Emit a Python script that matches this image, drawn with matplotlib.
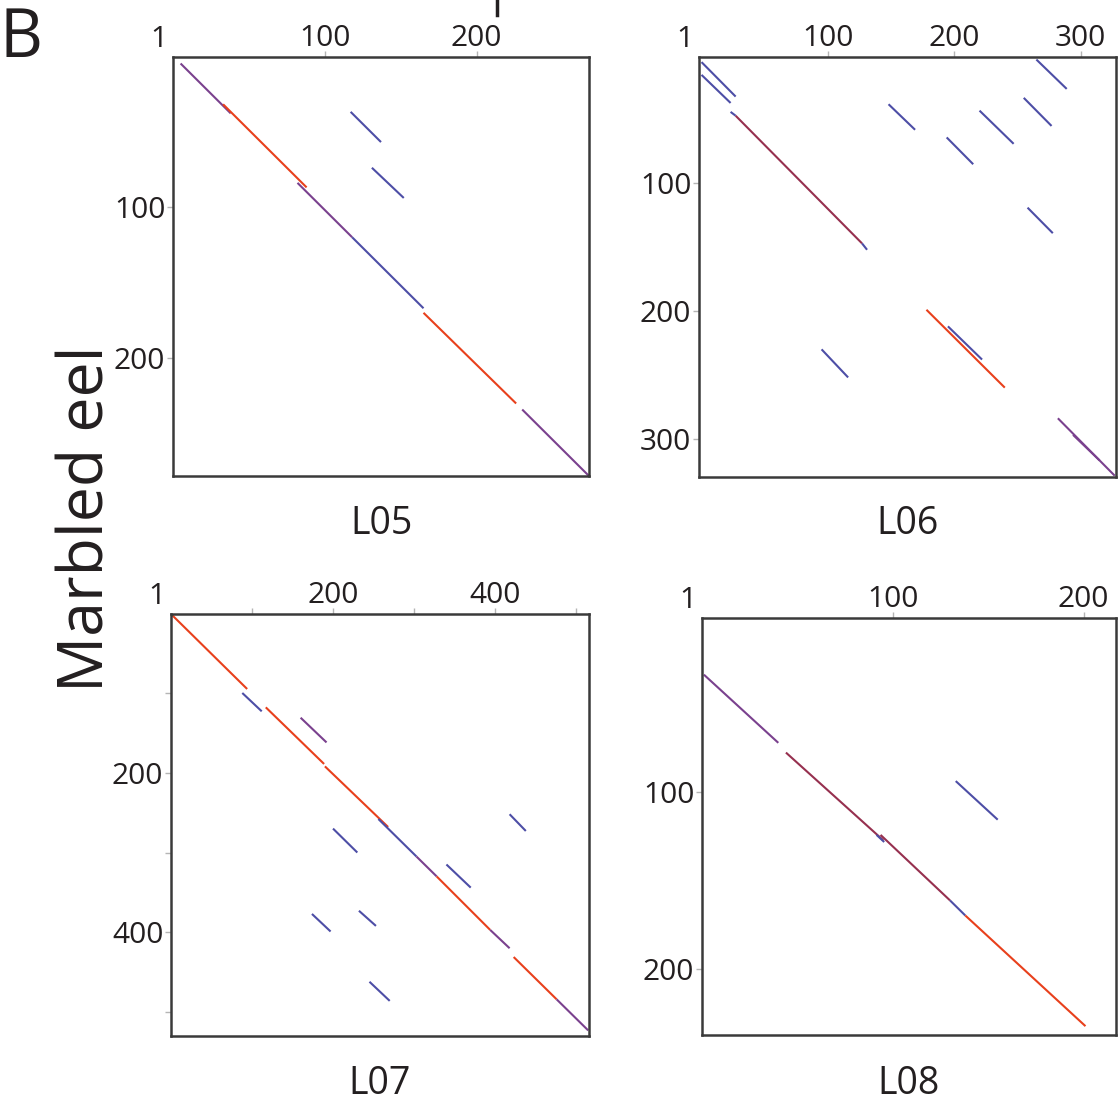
import matplotlib
matplotlib.use("Agg")
import matplotlib.pyplot as plt
from matplotlib.lines import Line2D

plt.rcParams['font.family'] = ['Open Sans', 'DejaVu Sans']

W, H = 1118, 1104
TXT = '#231f20'
COLORS = {'red': '#e8401c', 'blue': '#4d4ea6', 'purple': '#7a418e', 'darkred': '#96304f'}

panel_names = ['L05', 'L06', 'L07', 'L08']
y_label = 'Marbled eel'
panel_letter = 'B'

# axis ranges (sequence positions)
x_lims = {'L05': (0, 274), 'L06': (-2, 328), 'L07': (0, 516), 'L08': (0, 217)}
y_lims = {'L05': (278, 0.7), 'L06': (330, 1), 'L07': (530, 1), 'L08': (237, 1.5)}
tick_pos = {'L05': [100, 200], 'L06': [100, 200, 300],
            'L07': [100, 200, 300, 400, 500], 'L08': [100, 200]}
tick_lab = {'L05': ['100', '200'], 'L06': ['100', '200', '300'],
            'L07': ['', '200', '', '400', ''], 'L08': ['100', '200']}

# match segments: x0, y0, x1, y1, colour kind
L05_x0 = [5, 33, 82, 118, 165, 230, 117, 131]
L05_y0 = [5, 32, 84, 120, 170, 234, 37, 74]
L05_x1 = [38, 88, 118, 165, 226, 274, 137, 152]
L05_y1 = [38, 87, 120, 167, 230, 278, 57, 94]
L05_kind = ['purple', 'red', 'purple', 'blue', 'red', 'purple', 'blue', 'blue']

L06_x0 = [0, 0, 23, 27, 127, 148, 220, 194, 265, 255, 258, 178, 195, 95, 282, 294]
L06_y0 = [5, 15, 44, 47, 147, 38, 43, 64, 3, 33, 119, 199, 212, 230, 284, 297]
L06_x1 = [27, 23, 27, 127, 131, 169, 247, 215, 289, 277, 278, 240, 222, 116, 327, 315]
L06_y1 = [32, 37, 47, 147, 152, 58, 69, 85, 26, 55, 139, 260, 238, 252, 329, 317]
L06_kind = ['blue', 'blue', 'blue', 'darkred', 'blue', 'blue', 'blue', 'blue', 'blue',
            'blue', 'blue', 'red', 'blue', 'blue', 'purple', 'purple']

L07_x0 = [1, 88, 117, 160, 190, 256, 303, 328, 394, 423, 476, 200, 418, 340, 174, 232, 245]
L07_y0 = [2, 100, 118, 131, 192, 258, 305, 330, 397, 431, 484, 270, 252, 315, 377, 373, 462]
L07_x1 = [94, 112, 189, 192, 268, 303, 328, 394, 418, 476, 515, 230, 438, 370, 197, 253, 270]
L07_y1 = [95, 123, 189, 162, 268, 305, 330, 397, 420, 484, 523, 300, 273, 344, 399, 392, 486]
L07_kind = ['red', 'blue', 'red', 'purple', 'red', 'blue', 'purple', 'red', 'purple', 'red',
            'purple', 'blue', 'blue', 'blue', 'blue', 'blue', 'blue']

L08_x0 = [1, 44, 91.5, 93.6, 130, 138, 133]
L08_y0 = [33.5, 77.5, 124, 124, 161, 169.5, 93.6]
L08_x1 = [40, 95, 95.5, 130, 138, 201, 155]
L08_y1 = [72, 127, 128, 161, 169.5, 232, 115.4]
L08_kind = ['purple', 'darkred', 'blue', 'darkred', 'blue', 'red', 'blue']

segments = {
    'L05': (L05_x0, L05_y0, L05_x1, L05_y1, L05_kind),
    'L06': (L06_x0, L06_y0, L06_x1, L06_y1, L06_kind),
    'L07': (L07_x0, L07_y0, L07_x1, L07_y1, L07_kind),
    'L08': (L08_x0, L08_y0, L08_x1, L08_y1, L08_kind),
}

# axes boxes in pixels (left, top, right, bottom)
boxes = {'L05': (173, 57, 589, 476), 'L06': (699, 57, 1116, 477),
         'L07': (171, 614, 589, 1036), 'L08': (702, 618, 1116, 1035)}
label_base = {'L05': 534, 'L06': 534, 'L07': 1094, 'L08': 1094}

fig = plt.figure(figsize=(W / 100, H / 100), dpi=100)
fig.patch.set_facecolor('white')

for name in panel_names:
    l, t, r, b = boxes[name]
    ax = fig.add_axes([l / W, 1 - b / H, (r - l) / W, (b - t) / H])
    ax.set_xlim(*x_lims[name])
    ax.set_ylim(*y_lims[name])
    x0, y0, x1, y1, kind = segments[name]
    for a, bb, c, d, k in zip(x0, y0, x1, y1, kind):
        ax.plot([a, c], [bb, d], color=COLORS[k], lw=1.5, solid_capstyle='butt')
    ax.xaxis.tick_top()
    ax.set_xticks(tick_pos[name])
    ax.set_xticklabels(tick_lab[name])
    ax.set_yticks(tick_pos[name])
    ax.set_yticklabels(tick_lab[name])
    ax.tick_params(axis='both', direction='out', length=4, width=1, color='#b5b5b5',
                   labelsize=21.5, labelcolor=TXT)
    ax.tick_params(axis='x', pad=-1)
    ax.tick_params(axis='y', pad=1.5)
    for sp in ax.spines.values():
        sp.set_color('#3a3a3a')
        sp.set_linewidth(1.8)
    ax.annotate('1', xy=(0, 1), xycoords='axes fraction', xytext=(-14, 3),
                textcoords='offset pixels', ha='center', va='bottom',
                fontsize=21.5, color=TXT)
    fig.text(((l + r) / 2) / W, 1 - label_base[name] / H, name, ha='center',
             va='baseline', fontsize=27, color=TXT)

fig.text(0 / W, 1 - 57 / H, panel_letter, ha='left', va='baseline', fontsize=48, color=TXT)
fig.text(104 / W, 1 - 519 / H, y_label, rotation=90, rotation_mode='anchor',
         ha='center', va='baseline', fontsize=45, color=TXT)

# cropped fragment of a heading above the figure
fig.add_artist(Line2D([497 / W, 497 / W], [1, 1 - 15 / H], transform=fig.transFigure,
                      lw=2.5, color=TXT))

fig.savefig('out.png', dpi=100, facecolor='white')
